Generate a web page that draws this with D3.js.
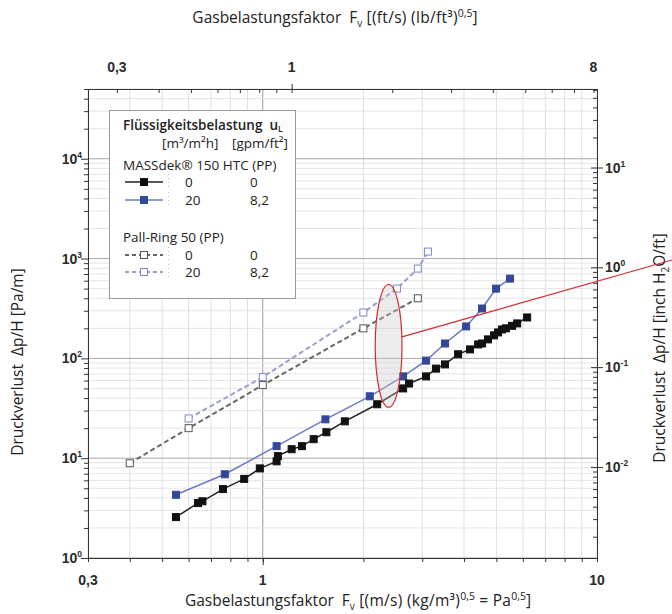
<!DOCTYPE html>
<html>
<head>
<meta charset="utf-8">
<script src="https://cdn.jsdelivr.net/npm/d3@7/dist/d3.min.js"></script>
<style>
    body { margin: 0; background: #fff; }
    svg { display: block; }
    .axis-title { font-family: "Open Sans", sans-serif; font-size: 15.5px; fill: #222; }
    .tick-label { font-family: "Liberation Sans", Arial, sans-serif; font-weight: bold; font-size: 14px; fill: #2a2a2a; }
    .legend text { font-family: "Open Sans", sans-serif; font-size: 13.5px; fill: #222; }
    .axis path, .axis line { stroke: #333; }
</style>
</head>
<body>
<div id="chart"></div>
<script>
// Gas load factor F [Pa^0.5] vs. pressure drop dp/H [Pa/m]
var massdek0 = [
    [0.55, 2.57], [0.64, 3.55], [0.66, 3.7], [0.76, 4.9], [0.88, 6.2], [0.98, 7.9],
    [1.10, 9.3], [1.11, 10.5], [1.22, 12.3], [1.31, 13.2], [1.42, 15.5], [1.55, 18.2],
    [1.76, 23.4], [2.20, 34.7], [2.63, 50], [2.74, 56], [3.08, 66], [3.30, 79],
    [3.51, 87], [3.84, 110], [4.17, 123], [4.41, 138], [4.53, 141], [4.72, 155],
    [4.92, 170], [5.06, 182], [5.20, 195], [5.34, 200], [5.57, 212], [5.77, 224], [6.18, 257]
];
var massdek20 = [
    [0.55, 4.3], [0.77, 6.9], [1.10, 13.2], [1.54, 24.5], [2.09, 41.7], [2.63, 66],
    [3.08, 95], [3.51, 141], [4.06, 209], [4.53, 316], [4.99, 500], [5.49, 630]
];
var pall0 = [[0.40, 8.9], [0.60, 20], [1.0, 54], [2.0, 200], [2.91, 400]];
var pall20 = [[0.60, 25], [1.0, 65], [2.0, 288], [2.52, 500], [2.91, 794], [3.12, 1175]];

var leftLabels = [1, 10, 100, 1000, 10000];
var rightLabels = [0.01, 0.1, 1, 10];
var bottomLabels = [0.3, 1, 10];
var topLabels = [0.3, 1, 8];

// highlighted region (ellipse annotation), in data units
var highlightF = [2.17, 2.61];
var highlightDp = [32.4, 550];

// unit conversions for the secondary axes
var FT_PER_SI = 0.8197;     // (ft/s)(lb/ft3)^0.5 per Pa^0.5
var PAM_PER_INCH = 817.2;   // Pa/m per inch H2O/ft

var NB = "\u00a0";

var W = 672, H = 614;
var svg = d3.select("#chart").append("svg").attr("width", W).attr("height", H);

var x = d3.scaleLog().domain([0.3, 10]).range([88, 597]);
var y = d3.scaleLog().domain([1, 50000]).range([558, 89]);
var xTop = d3.scaleLog().domain([0.3 * FT_PER_SI, 10 * FT_PER_SI]).range([88, 597]);
var yRight = d3.scaleLog().domain([1 / PAM_PER_INCH, 50000 / PAM_PER_INCH]).range([558, 89]);

function isDecade(v) { return Math.abs(Math.log10(v) - Math.round(Math.log10(v))) < 1e-6; }

// Grid
var grid = svg.append("g").attr("class", "grid");
x.ticks().forEach(function (v) {
    grid.append("line")
        .attr("x1", x(v)).attr("x2", x(v)).attr("y1", 89).attr("y2", 558)
        .attr("stroke", v === 1 ? "#9a9a9a" : "#e0e0e0").attr("stroke-width", 1);
});
y.ticks().forEach(function (v) {
    grid.append("line")
        .attr("x1", 88).attr("x2", 597).attr("y1", y(v)).attr("y2", y(v))
        .attr("stroke", isDecade(v) ? "#a8a8a8" : "#e4e4e4").attr("stroke-width", 1);
});

// Axes
var yTicks = y.ticks();
var xTicks = x.ticks();
var xTopTicks = xTop.ticks().filter(function (v) { return v <= 8.01; });
var yRightTicks = yRight.ticks();

function addAxis(axisFn, scale, values, size, translate) {
    svg.append("g").attr("class", "axis")
        .attr("transform", translate)
        .call(axisFn(scale).tickValues(values).tickSize(size).tickSizeOuter(0).tickFormat(""));
}

addAxis(d3.axisLeft, y, yTicks.filter(function (v) { return !isDecade(v); }), 4, "translate(88,0)");
addAxis(d3.axisLeft, y, yTicks.filter(isDecade), 7, "translate(88,0)");
addAxis(d3.axisBottom, x, xTicks, 4, "translate(0,558)");
addAxis(d3.axisBottom, x, [1], 7, "translate(0,558)");
addAxis(d3.axisTop, xTop, xTopTicks, -4, "translate(0,89)");
addAxis(d3.axisTop, xTop, [1], 5, "translate(0,89)");
addAxis(d3.axisRight, yRight, yRightTicks.filter(function (v) { return !isDecade(v); }), -4, "translate(597,0)");
addAxis(d3.axisRight, yRight, yRightTicks.filter(isDecade), -6, "translate(597,0)");
addAxis(d3.axisRight, yRight, yRightTicks.filter(isDecade), 6, "translate(597,0)");

// Tick labels
function powerLabel(g, v, px, py, anchor) {
    var t = g.append("text").attr("class", "tick-label")
        .attr("x", px).attr("y", py).attr("text-anchor", anchor);
    t.append("tspan").text("10");
    t.append("tspan").attr("dy", -6).attr("font-size", "8.5px").text(Math.round(Math.log10(v)));
}

leftLabels.forEach(function (v) { powerLabel(svg, v, 82, y(v) + 5, "end"); });
rightLabels.forEach(function (v) { powerLabel(svg, v, 605, yRight(v) + 5, "start"); });

bottomLabels.forEach(function (v) {
    svg.append("text").attr("class", "tick-label")
        .attr("x", x(v)).attr("y", 585).attr("text-anchor", "middle")
        .text(String(v).replace(".", ","));
});
topLabels.forEach(function (v) {
    svg.append("text").attr("class", "tick-label")
        .attr("x", xTop(v)).attr("y", 72).attr("text-anchor", "middle")
        .text(String(v).replace(".", ","));
});

// Axis titles
var topTitle = svg.append("text").attr("class", "axis-title")
    .attr("x", 335).attr("y", 23).attr("text-anchor", "middle");
topTitle.append("tspan").text("Gasbelastungsfaktor" + NB + NB + "F");
topTitle.append("tspan").attr("dy", 4).attr("font-size", "10px").text("v");
topTitle.append("tspan").attr("dy", -4).attr("letter-spacing", "0.3px").text(NB + "[(ft/s) (lb/ft³)");
topTitle.append("tspan").attr("dy", -6).attr("font-size", "10.5px").text("0,5");
topTitle.append("tspan").attr("dy", 6).text("]");

var bottomTitle = svg.append("text").attr("class", "axis-title")
    .attr("x", 358).attr("y", 606).attr("text-anchor", "middle");
bottomTitle.append("tspan").text("Gasbelastungsfaktor" + NB + NB + "F");
bottomTitle.append("tspan").attr("dy", 4).attr("font-size", "10px").text("v");
bottomTitle.append("tspan").attr("dy", -4).attr("letter-spacing", "0.3px").text(NB + "[(m/s) (kg/m³)");
bottomTitle.append("tspan").attr("dy", -6).attr("font-size", "10.5px").text("0,5");
bottomTitle.append("tspan").attr("dy", 6).attr("letter-spacing", "0.3px").text(" = Pa");
bottomTitle.append("tspan").attr("dy", -6).attr("font-size", "10.5px").text("0,5");
bottomTitle.append("tspan").attr("dy", 6).text("]");

svg.append("text").attr("class", "axis-title")
    .attr("transform", "translate(23,362) rotate(-90)")
    .attr("text-anchor", "middle")
    .text("Druckverlust" + NB + NB + "Δp/H [Pa/m]");

var rightTitle = svg.append("text").attr("class", "axis-title")
    .attr("transform", "translate(665,348) rotate(-90)")
    .attr("text-anchor", "middle");
rightTitle.append("tspan").text("Druckverlust" + NB + NB + "Δp/H [inch H");
rightTitle.append("tspan").attr("dy", 4).attr("font-size", "10px").text("2");
rightTitle.append("tspan").attr("dy", -4).text("O/ft]");

// Series
var series = [
    { data: pall0, line: "#666", marker: "#555", dash: "5,3", filled: false, width: 2 },
    { data: pall20, line: "#9aa0cc", marker: "#7f88c8", dash: "5,3", filled: false, width: 2 },
    { data: massdek20, line: "#6b7cc4", marker: "#33489a", dash: null, filled: true, width: 1.5 },
    { data: massdek0, line: "#222", marker: "#111", dash: null, filled: true, width: 1.5 }
];

var line = d3.line()
    .x(function (d) { return x(d[0]); })
    .y(function (d) { return y(d[1]); });

var plot = svg.append("g").attr("class", "plot");
series.forEach(function (s) {
    plot.append("path")
        .datum(s.data)
        .attr("d", line)
        .attr("fill", "none")
        .attr("stroke", s.line)
        .attr("stroke-width", s.width)
        .attr("stroke-dasharray", s.dash);
    plot.selectAll(null).data(s.data).enter().append("rect")
        .attr("x", function (d) { return x(d[0]) - 3.5; })
        .attr("y", function (d) { return y(d[1]) - 3.5; })
        .attr("width", 7).attr("height", 7)
        .attr("fill", s.filled ? s.marker : "#fff")
        .attr("stroke", s.marker)
        .attr("stroke-width", 1);
});

// Highlight ellipse + callout line
var ex0 = x(highlightF[0]), ex1 = x(highlightF[1]);
var ey0 = y(highlightDp[1]), ey1 = y(highlightDp[0]);
svg.append("ellipse")
    .attr("cx", (ex0 + ex1) / 2).attr("cy", (ey0 + ey1) / 2)
    .attr("rx", (ex1 - ex0) / 2).attr("ry", (ey1 - ey0) / 2)
    .attr("fill", "rgba(200,200,200,0.35)")
    .attr("stroke", "#d42a2a").attr("stroke-width", 1.2);
svg.append("line")
    .attr("x1", ex1).attr("y1", (ey0 + ey1) / 2 - 9)
    .attr("x2", 672).attr("y2", 260)
    .attr("stroke", "#d42a2a").attr("stroke-width", 1.2);

// Legend
var legend = svg.append("g").attr("class", "legend");
legend.append("rect")
    .attr("x", 109.5).attr("y", 110.5).attr("width", 186).attr("height", 188)
    .attr("fill", "#fff").attr("stroke", "#999");

var lt = legend.append("text").attr("x", 123).attr("y", 130).attr("font-weight", "600");
lt.append("tspan").text("Flüssigkeitsbelastung" + NB + NB + "u");
lt.append("tspan").attr("dy", 2).attr("font-size", "8.5px").text("L");

legend.append("text").attr("x", 162).attr("y", 148).attr("font-size", "12.5px").text("[m³/m²h]");
legend.append("text").attr("x", 232).attr("y", 148).attr("font-size", "12.5px").text("[gpm/ft²]");
legend.append("text").attr("x", 123).attr("y", 170).text("MASSdek® 150 HTC (PP)");
legend.append("text").attr("x", 123).attr("y", 242).text("Pall-Ring 50 (PP)");

var legendRows = [
    { s: series[3], y: 182, a: "0", b: "0" },
    { s: series[2], y: 200, a: "20", b: "8,2" },
    { s: series[0], y: 255, a: "0", b: "0" },
    { s: series[1], y: 272, a: "20", b: "8,2" }
];
legendRows.forEach(function (r) {
    legend.append("line")
        .attr("x1", 125).attr("x2", 163).attr("y1", r.y).attr("y2", r.y)
        .attr("stroke", r.s.line).attr("stroke-width", r.s.width)
        .attr("stroke-dasharray", r.s.dash ? "4,3" : null);
    legend.append("rect")
        .attr("x", 140.5).attr("y", r.y - 3.5).attr("width", 7).attr("height", 7)
        .attr("fill", r.s.filled ? r.s.marker : "#fff")
        .attr("stroke", r.s.marker);
    legend.append("line")
        .attr("x1", 168.5).attr("x2", 168.5).attr("y1", r.y - 8).attr("y2", r.y + 8)
        .attr("stroke", "#bbb").attr("stroke-dasharray", "1,3");
    legend.append("text").attr("x", 185).attr("y", r.y + 5).text(r.a);
    legend.append("text").attr("x", 250).attr("y", r.y + 5).text(r.b);
});
</script>
</body>
</html>
